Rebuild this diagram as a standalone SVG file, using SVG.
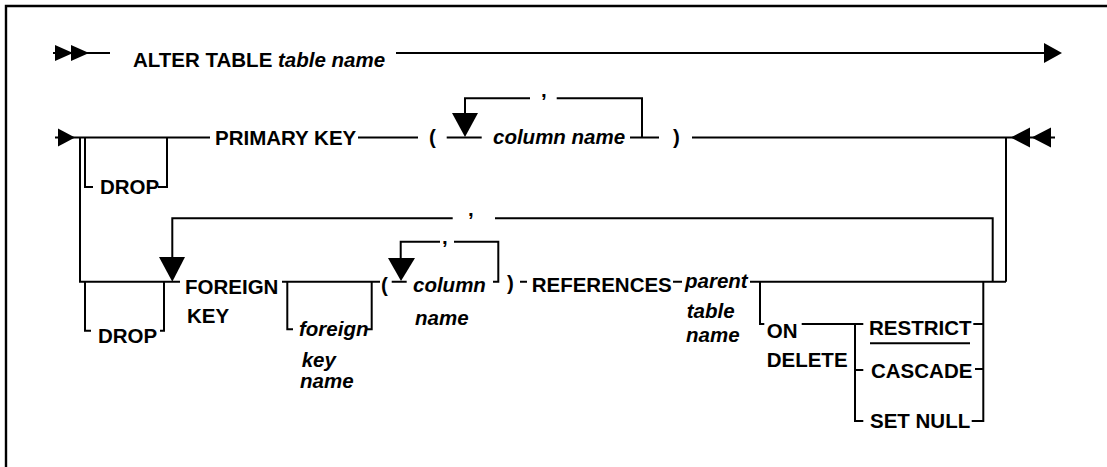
<svg xmlns="http://www.w3.org/2000/svg" width="1107" height="467" viewBox="0 0 1107 467">
<style>
text{font-family:"Liberation Sans",Arial,Helvetica,sans-serif;font-weight:bold;font-size:20.5px;fill:#000}
.i{font-style:italic}
.ln{fill:none;stroke:#000;stroke-width:2}
.ah{fill:#000;stroke:none}
.frame{fill:none;stroke:#000;stroke-width:2.4}
</style>
<rect width="1107" height="467" fill="#fff"/>
<path class="frame" d="M6,467 V6 H1107"/>
<g id="connectors">
<path class="ln" d="M53,53 H110 M396,53 H1046"/>
<polygon class="ah" points="55,45 73,53 55,61"/>
<polygon class="ah" points="71,45 89,53 71,61"/>
<polygon class="ah" points="1044,43 1062,53 1044,63"/>
<path class="ln" d="M55,137.5 H210 M80,137.5 V281.7 H180 M358,137.5 H418 M446.7,137.5 H481.7 M465,113 V98.3 H530 M556.7,98.3 H642 V137.5 H630 M642,137.5 H659 M692,137.5 H1055 M1006,137.5 V281.7"/>
<polygon class="ah" points="58,128.5 75,137.5 58,146.5"/>
<polygon class="ah" points="452,113 478,113 465,137"/>
<polygon class="ah" points="1030,127.5 1010.7,137.5 1030,147.5"/>
<polygon class="ah" points="1051,127.5 1031.7,137.5 1051,147.5"/>
<path class="ln" d="M172.3,257 V218.3 H452.7 M495,218.3 H992.7 V281.7 M282,281.7 H380 M391.7,281.7 H406.7 M400.7,258 V241.7 H440 M454,241.7 H498.3 V281.7 H493 M520,281.7 H527 M673,281.7 H682 M750,281.7 H1006"/>
<polygon class="ah" points="159,257 185,257 172.3,281.7"/>
<polygon class="ah" points="388,258 415,258 401,281"/>
</g>
<g id="alter-table"><text x="133" y="67">ALTER TABLE <tspan class="i">table name</tspan></text></g>
<g id="drop-pk"><path class="ln" d="M85,137.5 V187 H93 M158,187 H167 V137.5"/><text x="100" y="193.5">DROP</text></g>
<g id="primary-key"><text x="215" y="144.5">PRIMARY KEY</text></g>
<g id="pk-open"><text x="429" y="144">(</text></g>
<g id="pk-comma"><text x="541" y="97">,</text></g>
<g id="pk-column"><text class="i" x="493" y="144">column name</text></g>
<g id="pk-close"><text x="673" y="144">)</text></g>
<g id="fk-comma"><text x="468" y="216">,</text></g>
<g id="drop-fk"><path class="ln" d="M85,281.7 V330.7 H91 M160,330.7 H164 V281.7"/><text x="98" y="342.7">DROP</text></g>
<g id="foreign-key"><text x="185" y="293.5">FOREIGN</text><text x="187" y="322.7">KEY</text></g>
<g id="fk-name"><path class="ln" d="M287.3,281.7 V329.3 H293 M366,329.3 H371.7 V281.7"/><text class="i" x="299" y="336">foreign</text><text class="i" x="301.7" y="366.7">key</text><text class="i" x="300" y="388.3">name</text></g>
<g id="fk-open"><text x="381" y="292">(</text></g>
<g id="fk-col-comma"><text x="442" y="244">,</text></g>
<g id="fk-column"><text class="i" x="413" y="291.7">column</text><text class="i" x="415" y="325">name</text></g>
<g id="fk-close"><text x="507" y="290">)</text></g>
<g id="references"><text x="531.7" y="292.3">REFERENCES</text></g>
<g id="parent"><text class="i" x="685" y="288.3">parent</text><text class="i" x="686.7" y="318.3">table</text><text class="i" x="686" y="341.7">name</text></g>
<g id="on-delete"><path class="ln" d="M760,281.7 V324 H764.3 M801.7,324 H863.3 M855,324 V421 H863.3 M855,370 H863.3 M983.3,281.7 V421 H971.7 M973.3,324 H983.3 M975,369 H983.3"/><text x="766.7" y="337.7">ON</text><text x="766.7" y="366.7">DELETE</text></g>
<g id="restrict"><text x="869" y="335">RESTRICT</text><path class="ln" d="M870,343.3 H970"/></g>
<g id="cascade"><text x="871" y="378.3">CASCADE</text></g>
<g id="set-null"><text x="870" y="428.3">SET NULL</text></g>
</svg>
